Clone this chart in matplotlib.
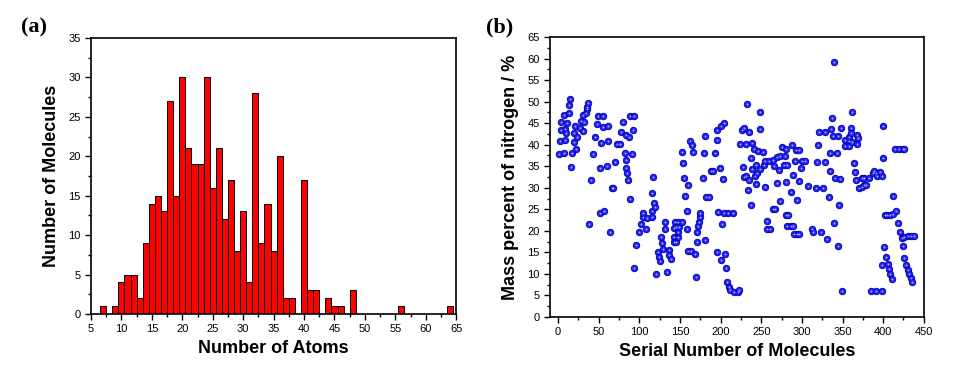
import matplotlib
matplotlib.use("Agg")
import matplotlib.pyplot as plt
from matplotlib.ticker import MultipleLocator

# (a) histogram: number of atoms -> number of molecules
atom_counts = [7, 9, 10, 11, 12, 13, 14, 15, 16, 17, 18, 19, 20, 21, 22, 23, 24, 25,
               26, 27, 28, 29, 30, 31, 32, 33, 34, 35, 36, 37, 38, 40, 41, 42, 44,
               45, 46, 48, 56, 64]
molecule_counts = [1, 1, 4, 5, 5, 2, 9, 14, 15, 13, 27, 15, 30, 21, 19, 19, 30, 16,
                   21, 12, 17, 8, 13, 4, 28, 9, 14, 8, 20, 2, 2, 17, 3, 3, 2,
                   1, 1, 3, 1, 1]

# (b) scatter: serial number -> mass percent of nitrogen
serial_no = [
    1, 2, 3, 4, 7, 7, 8, 9, 10, 11, 13, 14, 15, 16, 17, 19, 19, 21, 22, 23,
    27, 28, 31, 31, 32, 34, 35, 36, 37, 38, 41, 43, 46, 48, 49, 51, 52, 53, 55, 55,
    57, 60, 61, 62, 64, 66, 68, 70, 73, 76, 78, 80, 82, 83, 83, 84, 85, 86, 87, 88,
    89, 91, 92, 94, 94, 96, 100, 102, 104, 105, 108, 110, 115, 115, 116, 117, 118, 119, 121, 123,
    124, 125, 126, 128, 129, 131, 131, 134, 136, 137, 139, 142, 143, 143, 144, 145, 145, 147, 147, 148,
    149, 152, 152, 154, 155, 156, 158, 159, 160, 160, 162, 163, 165, 166, 169, 170, 171, 171, 172, 173,
    174, 175, 178, 179, 181, 181, 182, 186, 188, 191, 193, 195, 196, 196, 197, 199, 200, 201, 202, 203,
    204, 204, 205, 206, 208, 209, 210, 212, 215, 216, 221, 223, 224, 226, 227, 229, 229, 231, 231, 233,
    234, 235, 235, 237, 237, 239, 239, 241, 242, 244, 244, 245, 246, 248, 249, 249, 252, 253, 254, 254,
    257, 257, 260, 261, 264, 265, 266, 267, 269, 269, 272, 273, 273, 276, 278, 279, 280, 280, 281, 282,
    282, 283, 286, 286, 288, 289, 289, 290, 292, 293, 294, 294, 297, 297, 297, 299, 300, 304, 308, 312,
    314, 317, 319, 320, 321, 323, 326, 328, 329, 331, 333, 334, 334, 336, 337, 338, 339, 340, 341, 343,
    344, 345, 346, 347, 348, 349, 353, 353, 358, 358, 358, 360, 361, 362, 362, 364, 365, 366, 368, 368,
    369, 370, 374, 374, 376, 377, 379, 383, 385, 387, 389, 391, 391, 393, 396, 398, 398, 399, 400, 400,
    401, 402, 403, 405, 406, 407, 408, 409, 411, 412, 412, 415, 416, 418, 420, 421, 423, 424, 424, 426,
    426, 426, 428, 430, 430, 432, 434, 434, 436, 438,
]
nitrogen_pct = [
    37.8, 40.9, 43.4, 45.2, 38.1, 46.9, 41.2, 43.6, 42.6, 45.1, 47.3, 49.1, 50.6, 34.8, 38.0, 40.7, 42.8, 44.3, 39.0, 41.9,
    43.8, 45.6, 47.0, 43.2, 45.3, 47.3, 48.2, 48.7, 49.7, 21.6, 31.9, 37.8, 41.8, 44.7, 46.7, 24.1, 34.6, 40.5, 44.0, 46.7,
    24.5, 35.0, 40.9, 44.4, 19.7, 29.9, 29.9, 35.9, 40.1, 40.1, 42.9, 45.2, 38.1, 42.2, 36.4, 34.7, 33.4, 31.8, 41.7, 46.7,
    27.5, 37.8, 43.3, 46.7, 11.4, 16.7, 19.7, 21.7, 23.3, 24.2, 20.4, 23.0, 24.5, 23.3, 28.7, 32.6, 26.5, 25.6, 10.1, 15.2,
    14.0, 13.0, 18.5, 17.1, 15.9, 22.0, 20.4, 10.4, 15.6, 14.4, 13.4, 18.6, 20.6, 17.5, 22.1, 21.0, 17.5, 22.1, 18.6, 19.8,
    21.0, 22.1, 38.4, 35.7, 32.3, 28.1, 20.4, 24.6, 30.6, 15.4, 40.9, 15.4, 39.9, 38.4, 14.6, 9.4, 17.5, 19.7, 21.2, 22.1,
    23.3, 24.2, 32.2, 38.1, 42.0, 17.9, 27.8, 27.8, 33.9, 33.9, 38.1, 41.1, 43.4, 15.2, 24.4, 34.7, 44.3, 13.2, 21.7, 32.0,
    45.0, 24.2, 14.6, 11.4, 8.1, 24.2, 7.0, 6.3, 24.2, 5.9, 5.9, 6.3, 40.1, 43.4, 34.9, 43.9, 32.4, 40.1, 32.7, 49.4,
    29.5, 43.0, 31.8, 36.8, 26.1, 40.5, 34.4, 38.9, 32.7, 35.4, 30.9, 33.4, 38.6, 43.6, 47.7, 34.3, 38.4, 35.3, 30.2, 36.3,
    22.4, 20.4, 36.3, 20.4, 36.4, 25.0, 35.1, 25.0, 37.1, 31.0, 34.1, 37.4, 26.9, 39.4, 35.3, 37.4, 31.4, 23.7, 39.0, 35.3,
    21.2, 23.7, 29.1, 21.2, 39.9, 33.0, 21.2, 19.2, 36.1, 38.8, 27.2, 19.2, 38.8, 31.6, 19.3, 34.5, 36.2, 36.2, 30.4, 20.4,
    19.8, 29.9, 35.9, 39.9, 43.0, 19.8, 29.9, 35.9, 43.0, 18.0, 27.8, 33.9, 38.1, 43.6, 46.1, 42.0, 59.3, 21.9, 32.2, 38.1,
    42.0, 16.5, 26.0, 32.0, 43.9, 6.0, 41.2, 39.7, 41.9, 40.9, 39.7, 43.8, 42.8, 40.7, 47.7, 35.7, 33.6, 31.8, 42.2, 40.1,
    41.5, 30.0, 30.2, 32.2, 30.6, 32.2, 30.6, 32.2, 6.1, 33.4, 34.0, 33.4, 6.1, 32.7, 33.7, 32.7, 12.1, 6.1, 44.3, 36.8,
    16.3, 23.7, 13.9, 23.7, 12.3, 11.1, 23.7, 10.0, 8.8, 23.9, 28.1, 38.9, 24.7, 21.9, 38.9, 19.7, 18.3, 38.9, 16.6, 38.9,
    18.6, 13.6, 12.1, 18.8, 10.9, 10.0, 18.8, 9.0, 8.1, 18.8,
]

plt.rcParams["font.family"] = ["Liberation Sans", "DejaVu Sans"]

fig = plt.figure(figsize=(9.56, 3.67), dpi=100)
ax1 = fig.add_axes([0.0952, 0.1444, 0.382, 0.752])
ax2 = fig.add_axes([0.5753, 0.1362, 0.391, 0.763])

# (a)
ax1.bar(atom_counts, molecule_counts, width=1.0, color="#ff0000",
        edgecolor="black", linewidth=0.7)
ax1.set_xlim(5, 65)
ax1.set_ylim(0, 35)
ax1.xaxis.set_major_locator(MultipleLocator(5))
ax1.xaxis.set_minor_locator(MultipleLocator(2.5))
ax1.yaxis.set_major_locator(MultipleLocator(5))
ax1.yaxis.set_minor_locator(MultipleLocator(2.5))
ax1.set_xlabel("Number of Atoms", fontsize=13, fontweight="bold", labelpad=4)
ax1.set_ylabel("Number of Molecules", fontsize=13, fontweight="bold", labelpad=6)

# (b)
ax2.scatter(serial_no, nitrogen_pct, s=22, color="#2020ff",
            edgecolors="#0000a0", linewidths=0.6, zorder=3)
ax2.scatter(serial_no, nitrogen_pct, s=2, color="#a8a8ff", linewidths=0, zorder=4)
ax2.set_xlim(-10, 450)
ax2.set_ylim(0, 65)
ax2.xaxis.set_major_locator(MultipleLocator(50))
ax2.xaxis.set_minor_locator(MultipleLocator(25))
ax2.yaxis.set_major_locator(MultipleLocator(5))
ax2.yaxis.set_minor_locator(MultipleLocator(2.5))
ax2.set_xlabel("Serial Number of Molecules", fontsize=13, fontweight="bold", labelpad=4)
ax2.set_ylabel("Mass percent of nitrogen / %", fontsize=13, fontweight="bold", labelpad=6)

for ax in (ax1, ax2):
    for sp in ax.spines.values():
        sp.set_linewidth(1.2)
    ax.tick_params(which="both", direction="out", top=False, right=False,
                   labelsize=8, width=1.0)
    ax.tick_params(which="major", length=4)
    ax.tick_params(which="minor", length=2)

fig.text(0.036, 0.925, "(a)", fontsize=16, fontweight="bold",
         family=["Liberation Serif"], ha="center", va="center")
fig.text(0.523, 0.925, "(b)", fontsize=16, fontweight="bold",
         family=["Liberation Serif"], ha="center", va="center")

fig.savefig("out.png", dpi=100)
